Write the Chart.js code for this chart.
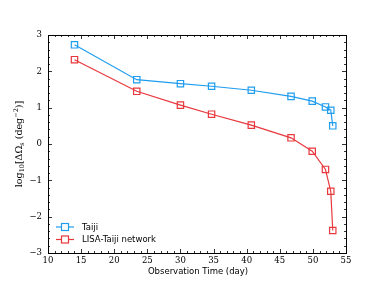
<!DOCTYPE html>
<html>
<head>
<meta charset="utf-8">
<script src="https://cdn.jsdelivr.net/npm/chart.js@4.4.0/dist/chart.umd.min.js"></script>
<style>
  html, body { margin: 0; padding: 0; background: #fff; }
  #wrap { width: 385px; height: 289px; }
</style>
</head>
<body>
<div id="wrap"><canvas id="chart" width="385" height="289"></canvas></div>
<script>
const days = [14, 23.4, 30, 34.7, 40.7, 46.7, 49.9, 51.9, 52.7, 53.0];
const taiji = [2.73, 1.77, 1.66, 1.59, 1.48, 1.31, 1.18, 1.02, 0.93, 0.50];
const network = [2.32, 1.45, 1.07, 0.82, 0.52, 0.17, -0.20, -0.70, -1.30, -2.38];
const seriesNames = ['Taiji', 'LISA-Taiji network'];
const xTicks = [10, 15, 20, 25, 30, 35, 40, 45, 50, 55];
const yTicks = [-3, -2, -1, 0, 1, 2, 3];

const blue = '#1f9def';
const red = '#e8383d';
const serif = '"DejaVu Serif", serif';
const sans = '"DejaVu Sans", sans-serif';

const toPoints = (xs, ys) => xs.map((x, i) => ({ x: x, y: ys[i] }));

// inward ticks on all four sides + closed frame
const frameTicks = {
    id: 'frameTicks',
    afterDraw(chart) {
        const { ctx, chartArea: a, scales: { x, y } } = chart;
        ctx.save();
        ctx.strokeStyle = '#000';
        ctx.lineWidth = 0.8;
        ctx.beginPath();
        for (let v = 10; v <= 55; v += 1) {
            const px = Math.round(x.getPixelForValue(v)) + 0.5;
            const len = v % 5 === 0 ? 4 : 2;
            ctx.moveTo(px, a.bottom); ctx.lineTo(px, a.bottom - len);
            ctx.moveTo(px, a.top); ctx.lineTo(px, a.top + len);
        }
        for (let i = -15; i <= 15; i++) {
            const py = Math.round(y.getPixelForValue(i / 5)) + 0.5;
            const len = i % 5 === 0 ? 4 : 2;
            ctx.moveTo(a.left, py); ctx.lineTo(a.left + len, py);
            ctx.moveTo(a.right, py); ctx.lineTo(a.right - len, py);
        }
        ctx.stroke();
        ctx.lineWidth = 1;
        ctx.strokeRect(Math.round(a.left) + 0.5, Math.round(a.top) + 0.5,
            Math.round(a.right - a.left), Math.round(a.bottom - a.top));

        // axis titles
        ctx.fillStyle = '#000';
        ctx.font = '8.5px ' + sans;
        ctx.textAlign = 'center';
        ctx.textBaseline = 'middle';
        ctx.fillText('Observation Time (day)', (a.left + a.right) / 2 + 1, 272);

        // y title: log10[ΔΩs (deg^-2)]
        ctx.translate(20, (a.top + a.bottom) / 2);
        ctx.rotate(-Math.PI / 2);
        const parts = [
            ['log', 9.5, 0], ['10', 6.5, 2.5], ['[ΔΩ', 9.5, 0], ['s', 6.5, 2.5],
            [' (deg', 9.5, 0], ['−2', 6.5, -4], [')]', 9.5, 0]
        ];
        let total = 0;
        parts.forEach(p => { ctx.font = p[1] + 'px ' + serif; total += ctx.measureText(p[0]).width; });
        let cx = -total / 2;
        ctx.textAlign = 'left';
        parts.forEach(p => {
            ctx.font = p[1] + 'px ' + serif;
            ctx.fillText(p[0], cx, p[2]);
            cx += ctx.measureText(p[0]).width;
        });
        ctx.restore();
    }
};

// legend inside lower-left of the plot
const insideLegend = {
    id: 'insideLegend',
    afterDraw(chart) {
        const { ctx, chartArea: a } = chart;
        ctx.save();
        chart.data.datasets.forEach((ds, i) => {
            const yy = a.bottom - 26 + i * 12.5;
            const x0 = a.left + 8;
            ctx.strokeStyle = ds.borderColor;
            ctx.lineWidth = 1.2;
            ctx.beginPath();
            ctx.moveTo(x0, yy); ctx.lineTo(x0 + 18, yy);
            ctx.stroke();
            ctx.fillStyle = '#fff';
            ctx.fillRect(x0 + 5.5, yy - 3.5, 7, 7);
            ctx.strokeRect(x0 + 5.5, yy - 3.5, 7, 7);
            ctx.fillStyle = '#000';
            ctx.font = '8.5px ' + sans;
            ctx.textAlign = 'left';
            ctx.textBaseline = 'middle';
            ctx.fillText(ds.label, x0 + 26, yy + 0.5);
        });
        ctx.restore();
    }
};

new Chart(document.getElementById('chart'), {
    type: 'line',
    data: {
        datasets: [{
            label: seriesNames[0],
            data: toPoints(days, taiji),
            borderColor: blue,
            backgroundColor: 'rgba(255,255,255,0)',
            borderWidth: 1.2,
            pointStyle: 'rect',
            pointRadius: 4.5,
            pointBorderWidth: 1.2,
            tension: 0
        }, {
            label: seriesNames[1],
            data: toPoints(days, network),
            borderColor: red,
            backgroundColor: 'rgba(255,255,255,0)',
            borderWidth: 1.2,
            pointStyle: 'rect',
            pointRadius: 4.5,
            pointBorderWidth: 1.2,
            tension: 0
        }]
    },
    options: {
        responsive: false,
        animation: false,
        layout: { padding: { left: 0, top: 35, right: 39, bottom: 0 } },
        plugins: {
            legend: { display: false },
            tooltip: { enabled: false }
        },
        scales: {
            x: {
                type: 'linear',
                min: 10, max: 55,
                grid: { display: false, drawTicks: false },
                border: { display: false },
                afterBuildTicks: s => { s.ticks = xTicks.map(v => ({ value: v })); },
                afterFit: s => { s.height = 36; },
                ticks: { color: '#000', padding: 3, maxRotation: 0, font: { family: serif, size: 8.5 } }
            },
            y: {
                min: -3, max: 3,
                grid: { display: false, drawTicks: false },
                border: { display: false },
                afterBuildTicks: s => { s.ticks = yTicks.map(v => ({ value: v })); },
                afterFit: s => { s.width = 48; },
                ticks: {
                    color: '#000', padding: 6,
                    font: { family: serif, size: 8.5 },
                    callback: v => String(v).replace('-', '−')
                }
            }
        }
    },
    plugins: [frameTicks, insideLegend]
});
</script>
</body>
</html>
